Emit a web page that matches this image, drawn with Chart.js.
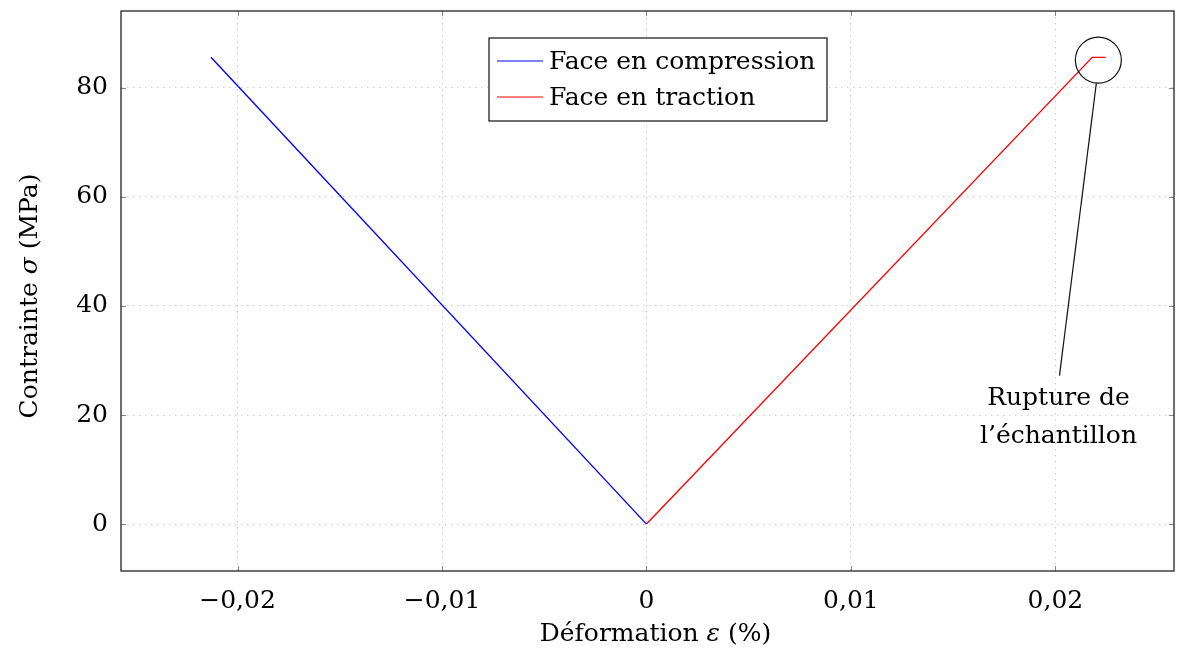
<!DOCTYPE html>
<html>
<head>
<meta charset="utf-8">
<script src="https://cdn.jsdelivr.net/npm/chart.js@4.4.1/dist/chart.umd.min.js"></script>
<style>
  html, body { margin: 0; padding: 0; background: #fff; }
  #wrap { width: 1189px; height: 650px; }
</style>
</head>
<body>
<div id="wrap"><canvas id="stressChart"></canvas></div>
<script>
// data
const compStrain = [0, -0.0213];
const compStress = [0, 85.6];
const tracStrain = [0, 0.0218, 0.02245];
const tracStress = [0, 85.6, 85.6];
const xTicks = [-0.02, -0.01, 0, 0.01, 0.02];
const yTicks = [0, 20, 40, 60, 80];
const rupturePoint = { x: 0.0221, y: 85.1 };
const ruptureLabel = ['Rupture de', 'l\u2019\u00e9chantillon'];
const ruptureLabelAt = { x: 0.02015, y: 23.0 };
const xTitle = ['D\u00e9formation ', '\u03b5', ' (%)'];
const yTitle = ['Contrainte ', '\u03c3', ' (MPa)'];

const FONT = '"DejaVu Serif", "Liberation Serif", serif';
const SIZE = 25;

function toPoints(xs, ys) {
  return xs.map((x, i) => ({ x: x, y: ys[i] }));
}

function fmt(v) {
  if (v === 0) return '0';
  let s = Math.abs(v).toFixed(2).replace('.', ',');
  return (v < 0 ? '\u2212' : '') + s;
}

// text in three parts, the middle one in italic
function drawTitle(ctx, parts, x, y) {
  const up = SIZE + 'px ' + FONT;
  const it = 'italic ' + SIZE + 'px ' + FONT;
  const fonts = [up, it, up];
  let widths = parts.map((p, i) => { ctx.font = fonts[i]; return ctx.measureText(p).width; });
  let total = widths.reduce((a, b) => a + b, 0);
  let cur = x - total / 2;
  ctx.textAlign = 'left';
  parts.forEach((p, i) => {
    ctx.font = fonts[i];
    ctx.fillText(p, cur, y);
    cur += widths[i];
  });
}

// frame, inner ticks, axis titles, legend box and the rupture annotation
const extras = {
  id: 'extras',
  afterDatasetsDraw(chart) {
    const ctx = chart.ctx;
    const a = chart.chartArea;
    const xs = chart.scales.x, ys = chart.scales.y;

    ctx.save();
    ctx.strokeStyle = '#888';
    ctx.lineWidth = 1;
    xTicks.forEach(v => {
      const px = Math.round(xs.getPixelForValue(v)) + 0.5;
      ctx.beginPath();
      ctx.moveTo(px, a.bottom); ctx.lineTo(px, a.bottom - 5);
      ctx.moveTo(px, a.top); ctx.lineTo(px, a.top + 5);
      ctx.stroke();
    });
    yTicks.forEach(v => {
      const py = Math.round(ys.getPixelForValue(v)) + 0.5;
      ctx.beginPath();
      ctx.moveTo(a.left, py); ctx.lineTo(a.left + 5, py);
      ctx.moveTo(a.right, py); ctx.lineTo(a.right - 5, py);
      ctx.stroke();
    });

    ctx.strokeStyle = '#222';
    ctx.lineWidth = 1.3;
    ctx.strokeRect(a.left, a.top, a.right - a.left, a.bottom - a.top);

    // axis titles
    ctx.fillStyle = '#000';
    ctx.textBaseline = 'middle';
    drawTitle(ctx, xTitle, (a.left + a.right) / 2 + 8, 634);
    ctx.save();
    ctx.translate(30, (a.top + a.bottom) / 2 + 5);
    ctx.rotate(-Math.PI / 2);
    drawTitle(ctx, yTitle, 0, 0);
    ctx.restore();

    // legend
    const lx = 489, ly = 38, lw = 338, lh = 83;
    ctx.fillStyle = '#fff';
    ctx.fillRect(lx, ly, lw, lh);
    ctx.strokeStyle = '#222';
    ctx.lineWidth = 1.3;
    ctx.strokeRect(lx, ly, lw, lh);
    ctx.font = SIZE + 'px ' + FONT;
    ctx.textAlign = 'left';
    chart.data.datasets.forEach((ds, i) => {
      const yy = ly + 23 + i * 36;
      ctx.strokeStyle = ds.borderColor;
      ctx.lineWidth = 1.2;
      ctx.beginPath();
      ctx.moveTo(lx + 8, yy); ctx.lineTo(lx + 54, yy);
      ctx.stroke();
      ctx.fillStyle = '#000';
      ctx.fillText(ds.label, lx + 60, yy + 1);
    });

    // rupture annotation
    const cx = xs.getPixelForValue(rupturePoint.x);
    const cy = ys.getPixelForValue(rupturePoint.y);
    const r = 23;
    ctx.strokeStyle = '#111';
    ctx.lineWidth = 1.2;
    ctx.beginPath();
    ctx.arc(cx, cy, r, 0, Math.PI * 2);
    ctx.stroke();
    const tx = xs.getPixelForValue(ruptureLabelAt.x);
    const ty = ys.getPixelForValue(ruptureLabelAt.y);
    ctx.beginPath();
    ctx.moveTo(cx - 2, cy + r);
    ctx.lineTo(tx + 1, ty - 23);
    ctx.stroke();
    ctx.fillStyle = '#000';
    ctx.textAlign = 'center';
    ctx.fillText(ruptureLabel[0], tx, ty);
    ctx.fillText(ruptureLabel[1], tx, ty + 38);
    ctx.restore();
  }
};

const gridOpts = {
  color: '#cccccc',
  lineWidth: 1,
  drawTicks: false
};

new Chart(document.getElementById('stressChart'), {
  type: 'scatter',
  data: {
    datasets: [{
      label: 'Face en compression',
      data: toPoints(compStrain, compStress),
      showLine: true,
      borderColor: '#0000ff',
      borderWidth: 1.4,
      pointRadius: 0
    }, {
      label: 'Face en traction',
      data: toPoints(tracStrain, tracStress),
      showLine: true,
      borderColor: '#ff0000',
      borderWidth: 1.4,
      pointRadius: 0
    }]
  },
  options: {
    responsive: true,
    maintainAspectRatio: false,
    animation: false,
    layout: { padding: { top: 11, right: 15, left: 0, bottom: 0 } },
    plugins: {
      legend: { display: false },
      tooltip: { enabled: false }
    },
    scales: {
      x: {
        type: 'linear',
        min: -0.0257,
        max: 0.0258,
        afterBuildTicks: s => { s.ticks = xTicks.map(v => ({ value: v })); },
        afterFit: s => { s.height = 79; s.paddingLeft = 0; s.paddingRight = 0; },
        border: { display: false, dash: [1.5, 4.5] },
        grid: gridOpts,
        ticks: {
          padding: 15,
          color: '#000',
          font: { family: FONT, size: SIZE },
          maxRotation: 0,
          callback: v => fmt(v)
        }
      },
      y: {
        type: 'linear',
        min: -8.6,
        max: 94.1,
        afterBuildTicks: s => { s.ticks = yTicks.map(v => ({ value: v })); },
        afterFit: s => { s.width = 121; s.paddingTop = 0; s.paddingBottom = 0; },
        border: { display: false, dash: [1.5, 4.5] },
        grid: gridOpts,
        ticks: {
          padding: 13,
          color: '#000',
          font: { family: FONT, size: SIZE },
          callback: v => String(v)
        }
      }
    }
  },
  plugins: [extras]
});
</script>
</body>
</html>
